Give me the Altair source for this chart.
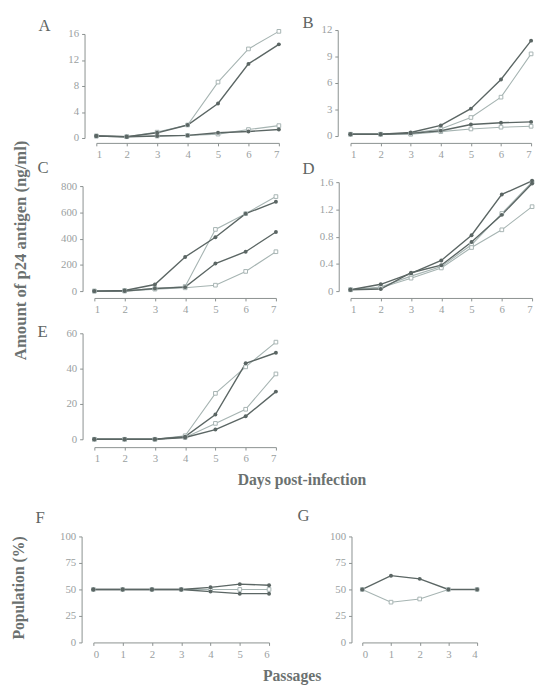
import altair as alt
import pandas as pd

# ---------------- data ----------------
days = [1, 2, 3, 4, 5, 6, 7]

A_light_hi = [0.3, 0.2, 0.9, 2.0, 8.6, 13.7, 16.4]
A_dark_hi = [0.3, 0.2, 0.8, 2.0, 5.3, 11.4, 14.4]
A_light_lo = [0.3, 0.2, 0.3, 0.4, 0.6, 1.3, 1.9]
A_dark_lo = [0.3, 0.2, 0.3, 0.4, 0.8, 1.0, 1.3]

B_dark_hi = [0.2, 0.2, 0.4, 1.2, 3.1, 6.4, 10.8]
B_light_hi = [0.2, 0.2, 0.3, 0.8, 2.1, 4.4, 9.3]
B_dark_lo = [0.2, 0.2, 0.3, 0.6, 1.3, 1.5, 1.6]
B_light_lo = [0.2, 0.2, 0.2, 0.5, 0.8, 1.0, 1.1]

C_dark_hi = [0, 5, 50, 260, 410, 590, 680]
C_light_hi = [0, 5, 20, 35, 470, 590, 720]
C_dark_lo = [0, 0, 20, 30, 210, 300, 450]
C_light_lo = [0, 0, 15, 25, 45, 150, 300]

D_dark_hi = [0.02, 0.10, 0.26, 0.45, 0.82, 1.42, 1.62]
D_dark_lo = [0.02, 0.03, 0.27, 0.38, 0.72, 1.12, 1.58]
D_light_hi = [0.02, 0.06, 0.22, 0.36, 0.68, 1.14, 1.60]
D_light_lo = [0.02, 0.05, 0.19, 0.34, 0.64, 0.90, 1.24]

E_dark_hi = [0, 0, 0, 1.5, 14, 43, 49]
E_light_hi = [0, 0, 0, 2, 26, 41, 55]
E_light_lo = [0, 0, 0, 1, 9, 17, 37]
E_dark_lo = [0, 0, 0, 1, 5.5, 13, 27]

passages_F = [0, 1, 2, 3, 4, 5, 6]
F_dark_up = [50, 50, 50, 50, 52, 55, 54]
F_light_mid = [50, 50, 50, 50, 50, 50, 50]
F_dark_down = [50, 50, 50, 50, 48, 46, 46]

passages_G = [0, 1, 2, 3, 4]
G_dark = [50, 63, 60, 50, 50]
G_light = [50, 38, 41, 50, 50]

# ---------------- style ----------------
DARK = "#5b6664"
LIGHT = "#a6b4b2"
AXIS = "#8a908f"
LABEL = "#9aa09f"
TEXT = "#5f6664"
FONT = "Liberation Serif"


def panel(letter, xs, series, ydomain, yticks, xrange, yrange, width, height,
          tdx, tdy, yfmt="d", yoffset=0, xaxis_extra=None, yaxis_extra=None):
    rows = []
    for name, (tone, vals) in series.items():
        for x, v in zip(xs, vals):
            rows.append({"x": x, "y": v, "s": name, "tone": tone})
    df = pd.DataFrame(rows)

    xax = dict(values=xs, format="d", title=None)
    if xaxis_extra:
        xax.update(xaxis_extra)
    yax = dict(values=yticks, format=yfmt, title=None, offset=yoffset)
    if yaxis_extra:
        yax.update(yaxis_extra)

    x = alt.X("x:Q", scale=alt.Scale(domain=[xs[0], xs[-1]], range=xrange, nice=False, zero=False),
              axis=alt.Axis(**xax))
    y = alt.Y("y:Q", scale=alt.Scale(domain=ydomain, range=yrange, nice=False, zero=False),
              axis=alt.Axis(**yax))

    base = alt.Chart(df)
    dark = base.transform_filter(alt.datum.tone == "dark")
    light = base.transform_filter(alt.datum.tone == "light")
    layers = [
        light.mark_line(color=LIGHT, strokeWidth=1.1).encode(x=x, y=y, detail="s:N"),
        dark.mark_line(color=DARK, strokeWidth=1.4).encode(x=x, y=y, detail="s:N"),
        light.mark_point(shape="square", filled=True, fill="white", stroke=LIGHT,
                         strokeWidth=1, size=14, opacity=1).encode(x=x, y=y),
        dark.mark_point(shape="circle", filled=True, color=DARK, size=16,
                        opacity=1).encode(x=x, y=y),
    ]
    return alt.layer(*layers).properties(
        width=width, height=height,
        title=alt.TitleParams(text=letter, anchor="start", frame="group", orient="top",
                              dx=tdx, dy=tdy, offset=0, baseline="middle",
                              font=FONT, fontSize=17, fontWeight="normal", color=TEXT),
    )


A = panel("A", days,
          {"a1": ("light", A_light_hi), "a2": ("dark", A_dark_hi),
           "a3": ("light", A_light_lo), "a4": ("dark", A_dark_lo)},
          [0, 16], [0, 4, 8, 12, 16], [14, 200], [110, 4], 224, 115, -45, 15, yoffset=-2)

B = panel("B", days,
          {"b1": ("dark", B_dark_hi), "b2": ("light", B_light_hi),
           "b3": ("dark", B_dark_lo), "b4": ("light", B_light_lo)},
          [0, 12], [0, 3, 6, 9, 12], [13, 197], [108, 0], 198, 115, -36, 16)

C = panel("C", days,
          {"c1": ("dark", C_dark_hi), "c2": ("light", C_light_hi),
           "c3": ("dark", C_dark_lo), "c4": ("light", C_light_lo)},
          [0, 800], [0, 200, 400, 600, 800], [12, 197], [115, 8], 224, 122, -46, 46,
          yaxis_extra=dict(title="Amount of p24 antigen (ng/ml)", titleX=-63, titleY=73,
                           titleAngle=270, titleAlign="center", titleBaseline="middle",
                           titleFontSize=17))

D = panel("D", days,
          {"d1": ("dark", D_dark_hi), "d2": ("dark", D_dark_lo),
           "d3": ("light", D_light_hi), "d4": ("light", D_light_lo)},
          [0, 1.6], [0, 0.4, 0.8, 1.2, 1.6], [13, 198], [115, 4], 198, 122, -36, 10,
          yfmt=".1~f", yoffset=-1)

E = panel("E", days,
          {"e1": ("dark", E_dark_hi), "e2": ("light", E_light_hi),
           "e3": ("light", E_light_lo), "e4": ("dark", E_dark_lo)},
          [0, 60], [0, 20, 40, 60], [12, 197], [108, 0], 224, 116, -46, 22,
          xaxis_extra=dict(title="Days post-infection", titleX=223, titleY=33,
                           titleAlign="center", titleBaseline="middle", titleAngle=0))

spacer = alt.Chart(pd.DataFrame({"v": [0]})).mark_point(opacity=0).encode(
    x=alt.X("v:Q", axis=None), y=alt.Y("v:Q", axis=None)
).properties(width=1, height=1)

F = panel("F", passages_F,
          {"f1": ("dark", F_dark_up), "f2": ("light", F_light_mid), "f3": ("dark", F_dark_down)},
          [0, 100], [0, 25, 50, 75, 100], [11, 190], [163, 55], 224, 163, -48, 53,
          yoffset=1,
          xaxis_extra=dict(title="Passages", titleX=213, titleY=34,
                           titleAlign="center", titleBaseline="middle", titleAngle=0),
          yaxis_extra=dict(title="Population (%)", titleX=-64, titleY=107,
                           titleAngle=270, titleAlign="center", titleBaseline="middle"))

G = panel("G", passages_G,
          {"g1": ("dark", G_dark), "g2": ("light", G_light)},
          [0, 100], [0, 25, 50, 75, 100], [25, 142], [163, 55], 198, 163, -41, 51,
          yoffset=-14)

chart = alt.concat(A, B, C, D, E, spacer, F, G, columns=2, spacing=36,
                   bounds="flush", align="each").properties(
    padding={"left": 3, "top": 0, "right": 0, "bottom": 0}
).configure_view(stroke=None).configure_axis(
    domainColor=AXIS, tickColor=AXIS, labelColor=LABEL, labelFont=FONT,
    labelFontSize=11, tickSize=3, labelPadding=3, grid=False, domainWidth=1,
    titleFont=FONT, titleFontSize=16, titleFontWeight="bold", titleColor="#6b7170",
)

chart.save("out.html", embed_options={"renderer": "svg", "actions": False})
